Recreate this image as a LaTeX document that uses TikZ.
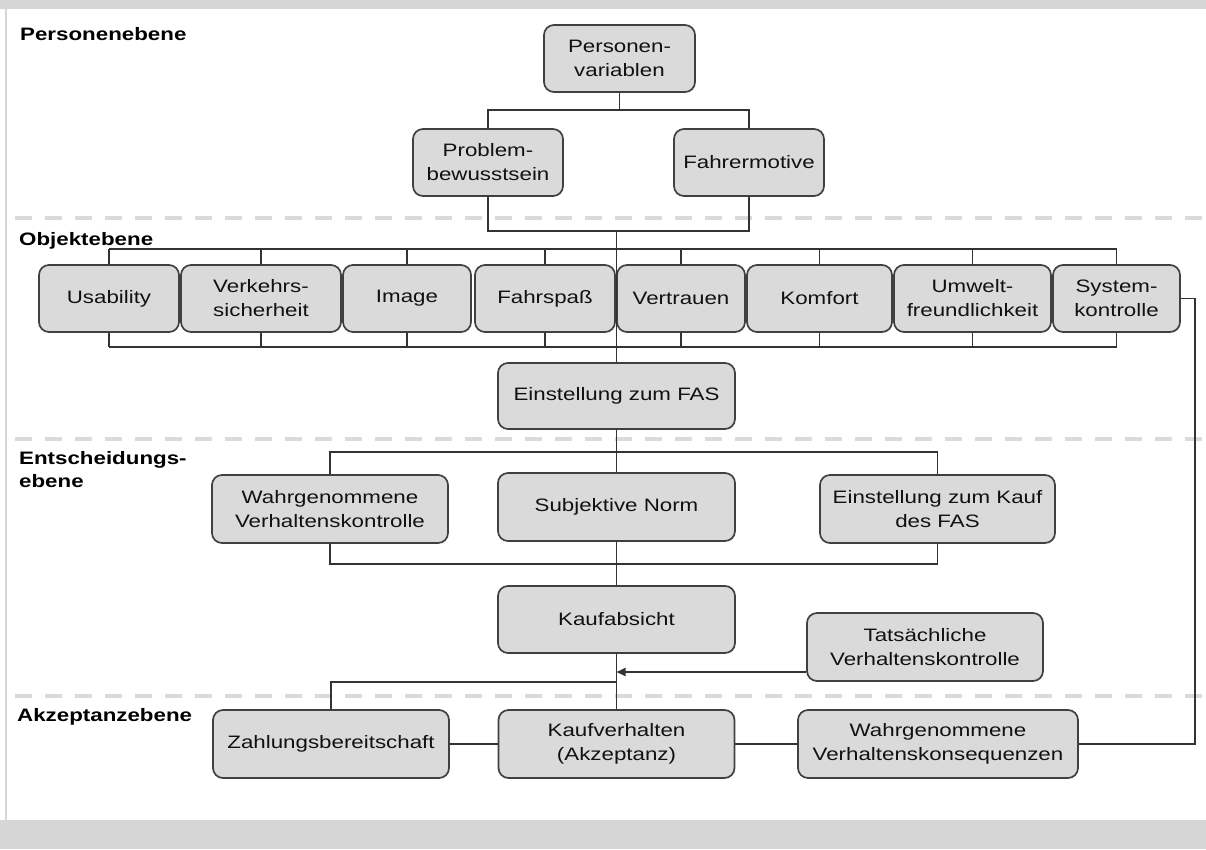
\documentclass[tikz,border=0pt]{standalone}
\usepackage{fontspec}
\setmainfont[FakeStretch=1.24]{Liberation Sans}
\usetikzlibrary{arrows.meta}
\definecolor{band}{HTML}{D6D6D6}
\definecolor{boxfill}{HTML}{DADADA}
\definecolor{boxline}{HTML}{404040}
\definecolor{wirecol}{HTML}{333333}
\definecolor{dashgray}{HTML}{DADADA}
\definecolor{txt}{HTML}{111111}
\begin{document}
\begin{tikzpicture}[x=1pt,y=-1pt,
  box/.style={draw=boxline, fill=boxfill, line width=1.7pt, rounded corners=10pt,
    align=center, text=txt, font=\fontsize{18}{24}\selectfont, inner sep=2pt,
    minimum height=67pt},
  wire/.style={draw=wirecol, line width=1.8pt},
  lvl/.style={font=\bfseries\fontsize{18}{23}\selectfont, inner sep=0pt, text=black, align=left},
  sepline/.style={draw=dashgray, line width=3.5pt, dash pattern=on 17pt off 13pt}]
% frame
\fill[white] (0,0) rectangle (1206,849);
\fill[band] (0,0) rectangle (1206,9);
\fill[band] (0,820) rectangle (1206,849);
\draw[band, line width=2pt] (6,9) -- (6,820);
\useasboundingbox (0,0) rectangle (1206,849);
% level separators
\draw[sepline] (15,218) -- (1206,218);
\draw[sepline] (15,439) -- (1206,439);
\draw[sepline] (15,696) -- (1206,696);
% level labels
\node[lvl, anchor=base west] (l1) at (20,40) {Personenebene};
\node[lvl, anchor=base west] (l2) at (19,245) {Objektebene};
\node[lvl, anchor=north west] (l3) at (19,451) {Entscheidungs-\\ebene};
\node[lvl, anchor=base west] (l4) at (17,721) {Akzeptanzebene};
% Personenebene
\node[box, minimum width=151pt] (pv) at (619.5,58.5) {Personen-\\variablen};
\node[box, minimum width=150pt] (pb) at (488,162.5) {Problem-\\bewusstsein};
\node[box, minimum width=150pt] (fm) at (749,162.5) {Fahrermotive};
% Objektebene
\node[box, minimum width=140pt] (us) at (109,298.5) {Usability};
\node[box, minimum width=160pt] (vs) at (261,298.5) {Verkehrs-\\sicherheit};
\node[box, minimum width=128pt] (im) at (407,298.5) {Image};
\node[box, minimum width=140pt] (fs) at (545,298.5) {Fahrspaß};
\node[box, minimum width=128pt] (vt) at (681,298.5) {Vertrauen};
\node[box, minimum width=145pt] (ko) at (819.5,298.5) {Komfort};
\node[box, minimum width=157pt] (uw) at (972.5,298.5) {Umwelt-\\freundlichkeit};
\node[box, minimum width=127pt] (sk) at (1116.5,298.5) {System-\\kontrolle};
\node[box, minimum width=237pt, minimum height=66pt] (ef) at (616.5,396) {Einstellung zum FAS};
% Entscheidungsebene
\node[box, minimum width=236pt, minimum height=68pt] (wv) at (330,509) {Wahrgenommene\\Verhaltenskontrolle};
\node[box, minimum width=237pt, minimum height=68pt] (sn) at (616.5,507) {Subjektive Norm};
\node[box, minimum width=235pt, minimum height=68pt] (ek) at (937.5,509) {Einstellung zum Kauf\\des FAS};
\node[box, minimum width=237pt] (ka) at (616.5,619.5) {Kaufabsicht};
\node[box, minimum width=236pt, minimum height=68pt] (tv) at (925,647) {Tatsächliche\\Verhaltenskontrolle};
% Akzeptanzebene
\node[box, minimum width=236pt, minimum height=68pt] (zb) at (331,744) {Zahlungsbereitschaft};
\node[box, minimum width=236pt, minimum height=68pt] (kv) at (616.5,744) {Kaufverhalten\\(Akzeptanz)};
\node[box, minimum width=280pt, minimum height=68pt] (wk) at (938,744) {Wahrgenommene\\Verhaltenskonsequenzen};
% helper coordinates
\coordinate (y1) at (0,110);
\coordinate (y2) at (0,231);
\coordinate (y3) at (0,249);
\coordinate (y4) at (0,347);
\coordinate (y5) at (0,452);
\coordinate (y6) at (0,564);
\coordinate (y7) at (0,682);
\coordinate (rc) at (1195,500);
% connectors Personenebene
\draw[wire] (pv.south) -- (pv.south |- y1);
\draw[wire] (pb.north) |- (fm.north |- y1) -- (fm.north);
\draw[wire] (pb.south) |- (fm.south |- y2) -- (fm.south);
\draw[wire] (ef.north |- y2) -- (ef.north);
% Objektebene bars
\draw[wire] (us.north |- y3) -- (sk.north |- y3);
\foreach \n in {us,vs,im,fs,vt,ko,uw,sk} {
  \draw[wire] (\n.north) -- (\n.north |- y3);
  \draw[wire] (\n.south) -- (\n.south |- y4);
}
\draw[wire] (us.south |- y4) -- (sk.south |- y4);
% Entscheidungsebene
\draw[wire] (ef.south) -- (sn.north);
\draw[wire] (wv.north) |- (ek.north |- y5) -- (ek.north);
\draw[wire] (wv.south) |- (ek.south |- y6) -- (ek.south);
\draw[wire] (sn.south) -- (ka.north);
\draw[wire] (ka.south) -- (kv.north);
\coordinate (tvout) at ([yshift=-25pt]tv.west);
\draw[wire, -{Triangle[length=9pt,width=8pt]}] (tvout) -- (tvout -| ka.south);
\draw[wire] (ka.south |- y7) -| (zb.north);
% Akzeptanzebene
\draw[wire] (zb.east) -- (kv.west);
\draw[wire] (kv.east) -- (wk.west);
\draw[wire] (wk.east) -| (rc |- sk.east) -- (sk.east);
\end{tikzpicture}
\end{document}
